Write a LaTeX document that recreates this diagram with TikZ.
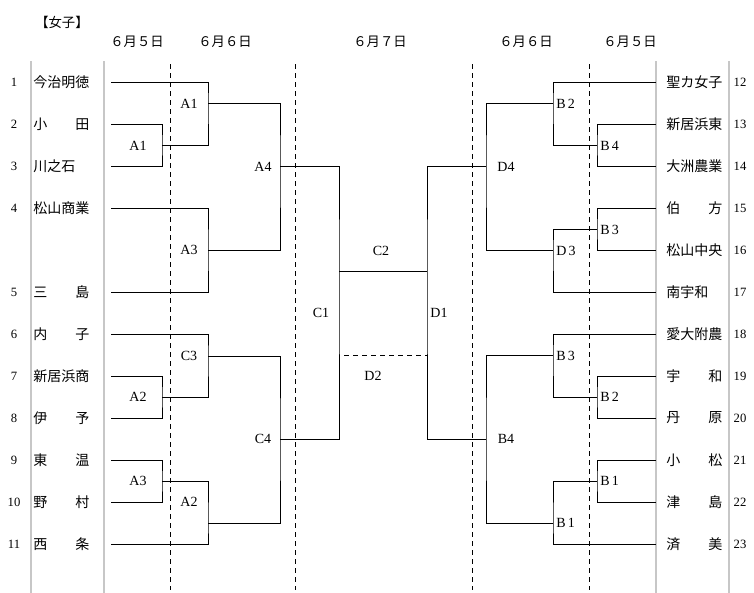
\documentclass[tikz,border=0pt]{standalone}
\usepackage{fontspec}
\setmainfont{Liberation Serif}
\newfontfamily\jp{Noto Sans CJK JP}
\begin{document}
\begin{tikzpicture}[x=0.75pt,y=-0.75pt,
  br/.style={line width=0.75pt, black},
  gr/.style={line width=1pt, color=black!22},
  dsh/.style={line width=0.75pt, dash pattern=on 3.75pt off 3pt},
  team/.style={anchor=west, inner sep=0pt, font=\jp\fontsize{10.5pt}{12pt}\selectfont},
  num/.style={inner sep=0pt, font=\fontsize{9.5pt}{11pt}\selectfont},
  lab/.style={inner sep=0pt, font=\fontsize{10.5pt}{12pt}\selectfont},
  rlab/.style={lab, anchor=west},
  hdr/.style={inner sep=0pt, font=\jp\fontsize{10pt}{12pt}\selectfont}]
\useasboundingbox (0,0) rectangle (754,593);
\newcommand{\spread}[2]{\hbox to 4em{#1\hfil #2}}
% headers
\node[hdr] (title) at (62,22) {【女子】};
\node[hdr] (h1) at (137,42) {６月５日};
\node[hdr] (h2) at (225,42) {６月６日};
\node[hdr] (h3) at (380,42) {６月７日};
\node[hdr] (h4) at (526,42) {６月６日};
\node[hdr] (h5) at (630,42) {６月５日};
% gray and dashed vertical lines
\foreach \x/\n in {31/g1,104/g2,656/g3,729/g4}{
  \coordinate (\n t) at (\x,61); \coordinate (\n b) at (\x,593);
  \draw[gr] (\n t) -- (\n b);}
\foreach \x/\n in {170/d1,295/d2,472/d3,589/d4}{
  \coordinate (\n t) at (\x,64); \coordinate (\n b) at (\x,590);
  \draw[dsh] (\n t) -- (\n b);}
% left teams
\foreach \i/\y/\name in {1/82/今治明徳, 2/124/\spread{小}{田}, 3/166/川之石, 4/208/松山商業,
  5/292/\spread{三}{島}, 6/334/\spread{内}{子}, 7/376/新居浜商, 8/418/\spread{伊}{予},
  9/460/\spread{東}{温}, 10/502/\spread{野}{村}, 11/544/\spread{西}{条}}{
  \node[num] (n\i) at (14,\y) {\i};
  \node[team] (t\i) at (33,\y) {\name};
  \coordinate (L\i) at (111,\y);}
% right teams
\foreach \i/\y/\name in {12/82/聖カ女子, 13/124/新居浜東, 14/166/大洲農業, 15/208/\spread{伯}{方},
  16/250/松山中央, 17/292/南宇和, 18/334/愛大附農, 19/376/\spread{宇}{和},
  20/418/\spread{丹}{原}, 21/460/\spread{小}{松}, 22/502/\spread{津}{島}, 23/544/\spread{済}{美}}{
  \node[num] (n\i) at (740,\y) {\i};
  \node[team] (t\i) at (666,\y) {\name};
  \coordinate (R\i) at (656,\y);}
% junctions left
\coordinate (jL23) at (162,145);
\coordinate (jL78) at (162,397);
\coordinate (jL910) at (162,481);
\coordinate (jL1) at (208,103);
\coordinate (jL45) at (208,250);
\coordinate (jL6) at (208,356);
\coordinate (jL11) at (208,523);
\coordinate (jLA4) at (280,166);
\coordinate (jLC4) at (280,439);
\coordinate (jC1) at (339,271);
\coordinate (jD1) at (427,271);
\coordinate (d2s) at (344,355);
\coordinate (jD2) at (427,355);
% junctions right
\coordinate (jRD4) at (486,166);
\coordinate (jRB4) at (486,439);
\coordinate (jR12) at (553,103);
\coordinate (jR17) at (553,250);
\coordinate (jR18) at (553,355);
\coordinate (jR23) at (553,523);
\coordinate (jR1314) at (597,145);
\coordinate (jR1516) at (597,229);
\coordinate (jR1920) at (597,397);
\coordinate (jR2122) at (597,481);
% left bracket
\draw[br] (L1) -| (jL1) |- (jL23);
\draw[br] (L2) -| (jL23) |- (L3);
\draw[br] (jL1) -| (jLA4) |- (jL45);
\draw[br] (L4) -| (jL45) |- (L5);
\draw[br] (jLA4) -| (jC1) |- (jLC4);
\draw[br] (L6) -| (jL6) |- (jL78);
\draw[br] (L7) -| (jL78) |- (L8);
\draw[br] (jL6) -| (jLC4) |- (jL11);
\draw[br] (L9) -| (jL910) |- (L10);
\draw[br] (jL910) -| (jL11) |- (L11);
% centre
\draw[br] (jC1) -- (jD1);
\draw[br, dash pattern=on 3.75pt off 3pt] (d2s) -- (jD2);
\draw[br] (jRD4) -| (jD1) |- (jRB4);
% right bracket
\draw[br] (R12) -| (jR12) |- (jR1314);
\draw[br] (R13) -| (jR1314) |- (R14);
\draw[br] (jR12) -| (jRD4) |- (jR17);
\draw[br] (R15) -| (jR1516) |- (R16);
\draw[br] (jR1516) -| (jR17) |- (R17);
\draw[br] (R18) -| (jR18) |- (jR1920);
\draw[br] (R19) -| (jR1920) |- (R20);
\draw[br] (jR18) -| (jRB4) |- (jR23);
\draw[br] (R21) -| (jR2122) |- (R22);
\draw[br] (jR2122) -| (jR23) |- (R23);
% labels left
\node[lab] (la1a) at (138,146) {A1};
\node[lab] (la1b) at (189,104) {A1};
\node[lab] (la4) at (263,167) {A4};
\node[lab] (la3b) at (189,250) {A3};
\node[lab] (lc3) at (189,356) {C3};
\node[lab] (la2a) at (138,397) {A2};
\node[lab] (lc4) at (263,439) {C4};
\node[lab] (la3a) at (138,481) {A3};
\node[lab] (la2b) at (189,502) {A2};
\node[lab] (lc1) at (321,313) {C1};
\node[lab] (lc2) at (381,251) {C2};
\node[lab] (ld2) at (373,376) {D2};
\node[lab] (ld1) at (439,313) {D1};
\node[lab] (ld4) at (506,167) {D4};
\node[lab] (lb4c) at (506,439) {B4};
% labels right
\node[rlab] (lb2a) at (556,104) {B\,2};
\node[rlab] (lb4) at (600,146) {B\,4};
\node[rlab] (lb3a) at (600,230) {B\,3};
\node[rlab] (ld3) at (556,251) {D\,3};
\node[rlab] (lb3b) at (556,356) {B\,3};
\node[rlab] (lb2b) at (600,397) {B\,2};
\node[rlab] (lb1a) at (600,481) {B\,1};
\node[rlab] (lb1b) at (556,523) {B\,1};
\end{tikzpicture}
\end{document}
